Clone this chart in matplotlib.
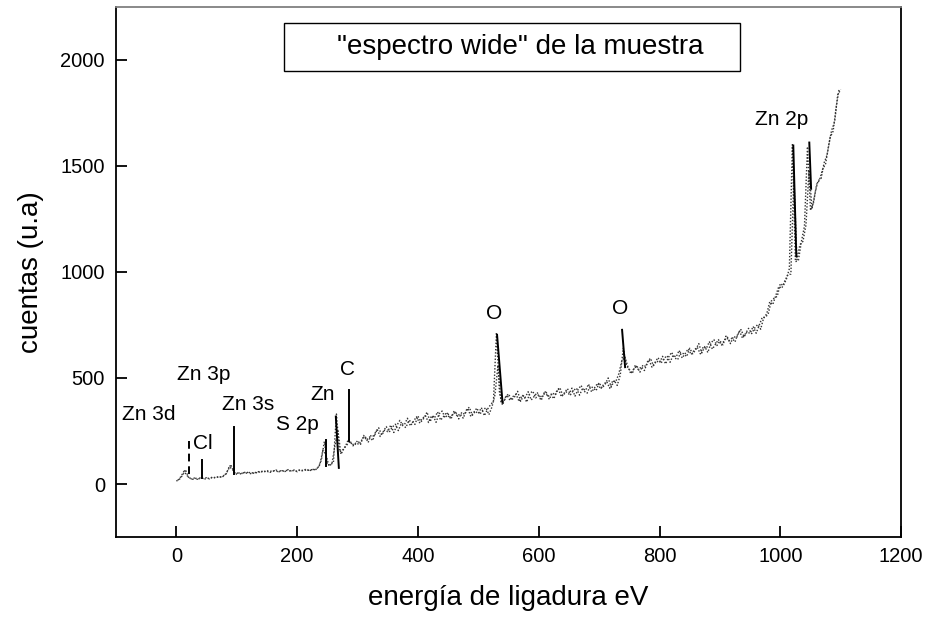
import matplotlib
matplotlib.use("Agg")
import matplotlib.pyplot as plt
from matplotlib.patches import Rectangle

plt.rcParams['font.family'] = ['Liberation Sans', 'DejaVu Sans']

# --- data -------------------------------------------------------------
# scan A: energies 0, 5, 10 ... 1100 eV
counts_a = [
    14, 22, 40, 68, 32, 24, 28, 22, 30, 26,
    30, 24, 34, 28, 36, 31, 42, 62, 92, 58,
    46, 54, 49, 58, 52, 47, 55, 52, 62, 56,
    64, 55, 60, 66, 58, 63, 59, 68, 62, 66,
    58, 68, 63, 71, 61, 70, 66, 80, 112, 200,
    92, 90, 102, 330, 152, 158, 178, 212, 192, 182,
    205, 187, 229, 207, 222, 205, 247, 265, 231, 254,
    247, 278, 243, 276, 300, 275, 266, 300, 294, 281,
    320, 293, 311, 339, 294, 323, 291, 331, 344, 312,
    330, 308, 346, 320, 331, 310, 348, 362, 324, 343,
    332, 360, 322, 352, 373, 390, 715, 430, 372, 410,
    425, 396, 411, 437, 390, 417, 386, 426, 438, 406,
    422, 400, 438, 412, 423, 402, 440, 454, 416, 435,
    424, 452, 414, 444, 465, 438, 428, 461, 454, 440,
    478, 452, 471, 500, 457, 488, 465, 514, 640, 560,
    540, 521, 562, 539, 553, 535, 576, 593, 558, 580,
    572, 602, 566, 598, 621, 595, 586, 620, 614, 601,
    640, 614, 633, 662, 618, 648, 620, 664, 681, 653,
    675, 656, 697, 674, 688, 670, 711, 728, 694, 717,
    710, 743, 711, 748, 785, 785, 802, 862, 877, 885,
    945, 935, 965, 1015, 1600, 1048, 1055, 1144, 1216, 1590,
    1290, 1326, 1412, 1434, 1483, 1510, 1596, 1668, 1708, 1835,
    1860,
]
energy_a = [5 * i for i in range(len(counts_a))]

# scan B: energies 2.5, 7.5 ... 1097.5 eV
counts_b = [
    18, 35, 60, 40, 28, 22, 27, 25, 29, 24,
    27, 29, 30, 33, 32, 38, 48, 82, 70, 50,
    52, 47, 55, 50, 56, 51, 56, 59, 57, 61,
    58, 61, 63, 59, 62, 61, 64, 62, 63, 61,
    65, 62, 66, 64, 68, 66, 72, 90, 160, 140,
    85, 95, 180, 250, 140, 168, 185, 200, 180, 195,
    186, 210, 225, 196, 231, 225, 258, 224, 247, 271,
    245, 268, 282, 252, 286, 279, 310, 274, 295, 317,
    289, 310, 322, 290, 322, 312, 340, 301, 319, 338,
    309, 329, 340, 307, 338, 328, 357, 319, 338, 358,
    329, 349, 360, 327, 363, 420, 560, 384, 391, 419,
    394, 413, 423, 389, 419, 408, 435, 396, 413, 432,
    401, 421, 432, 399, 430, 420, 449, 411, 430, 450,
    421, 441, 452, 419, 450, 441, 471, 434, 454, 475,
    448, 470, 483, 452, 487, 482, 519, 580, 600, 554,
    520, 543, 557, 527, 561, 554, 586, 551, 573, 596,
    570, 592, 605, 574, 607, 599, 630, 594, 615, 637,
    610, 632, 645, 614, 647, 639, 671, 636, 658, 681,
    655, 678, 692, 662, 696, 689, 721, 687, 710, 734,
    709, 735, 752, 730, 784, 802, 859, 846, 888, 931,
    923, 958, 987, 990, 1450, 1057, 1129, 1144, 1221, 1480,
    1298, 1371, 1430, 1440, 1514, 1552, 1634, 1664, 1776, 1864,
]
energy_b = [2.5 + 5 * i for i in range(len(counts_b))]

# peak marker lines: (E_top, counts_top, E_bottom, counts_bottom)
peak_e_top = [21, 43, 96, 248, 264, 286, 531, 738, 1021.5, 1048]
peak_c_top = [205, 114, 270, 209, 318, 445, 703, 727, 1596, 1610]
peak_e_bot = [21, 43, 96, 248, 269, 286, 540, 743, 1026.5, 1051]
peak_c_bot = [40, 28, 45, 85, 76, 205, 385, 551, 1074, 1392]
peak_dashed = [True, False, False, False, False, False, False, False, False, False]

label_text = ["Zn 3d", "Zn 3p", "Cl", "Zn 3s", "S 2p", "Zn", "C", "O", "O", "Zn 2p"]
label_e = [-46, 46, 43, 119, 200, 242, 283, 526, 735, 1003]
label_c = [328, 518, 190, 375, 280, 423, 541, 803, 827, 1720]

x_ticks = [0, 200, 400, 600, 800, 1000, 1200]
y_ticks = [0, 500, 1000, 1500, 2000]

title_text = '"espectro wide" de la muestra'
x_label = "energía de ligadura eV"
y_label = "cuentas (u.a)"

# --- figure -----------------------------------------------------------
fig = plt.figure(figsize=(9.28, 6.18), dpi=100)
ax = fig.add_axes([0.125, 0.131, 0.846, 0.858])

for e, c in ((energy_a, counts_a), (energy_b, counts_b)):
    ax.plot(e, c, color='0.2', lw=1.0, linestyle=(0, (1, 1.3)))

for et, ct, eb, cb, d in zip(peak_e_top, peak_c_top, peak_e_bot, peak_c_bot, peak_dashed):
    ax.plot([et, eb], [ct, cb], color='black', lw=1.4,
            linestyle=(0, (4, 2.5)) if d else '-')

for t, e, c in zip(label_text, label_e, label_c):
    ax.text(e, c, t, fontsize=15, ha='center', va='center', color='black')

ax.set_xlim(-100, 1200)
ax.set_ylim(-250, 2250)
ax.set_xticks(x_ticks)
ax.set_yticks(y_ticks)
ax.tick_params(direction='in', length=8, width=1.3, labelsize=14.5, pad=8)
ax.tick_params(axis='x', pad=7)
for s in ['left', 'bottom', 'right']:
    ax.spines[s].set_linewidth(1.3)
    ax.spines[s].set_color('black')
ax.spines['top'].set_color('0.5')
ax.spines['top'].set_linewidth(1.3)

ax.set_xlabel(x_label, fontsize=20, labelpad=14)
ax.set_ylabel(y_label, fontsize=20, labelpad=12)

ax.add_patch(Rectangle((0.214, 0.879), 0.581, 0.091, transform=ax.transAxes,
                       facecolor='white', edgecolor='black', lw=1.0, zorder=3))
ax.text(0.515, 0.925, title_text, transform=ax.transAxes, fontsize=20,
        ha='center', va='center', zorder=4)

fig.savefig('out.png', dpi=100)
